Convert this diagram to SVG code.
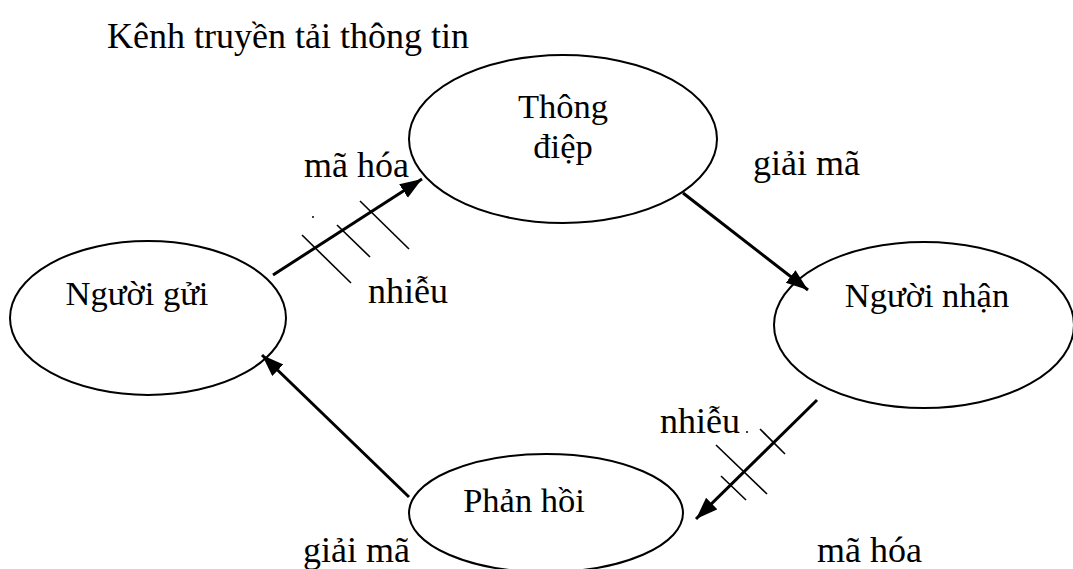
<svg xmlns="http://www.w3.org/2000/svg" width="1073" height="569" viewBox="0 0 1073 569">
  <style>
    .node { fill: #ffffff; stroke: #000000; stroke-width: 2; }
    .ntext { font-family: "Liberation Serif", "Times New Roman", serif; font-size: 34.5px; fill: #000000; text-anchor: middle; }
    .label { font-family: "Liberation Serif", "Times New Roman", serif; font-size: 36px; fill: #000000; }
    .flow { stroke: #000000; stroke-width: 3; fill: none; marker-end: url(#head); }
    .noise { stroke: #000000; stroke-width: 1.6; }
  </style>
  <defs>
    <marker id="head" markerUnits="userSpaceOnUse" markerWidth="24" markerHeight="18" refX="22" refY="8" orient="auto">
      <path d="M0,0 L22,8 L0,16 Z" fill="#000000"/>
    </marker>
  </defs>

  <rect width="1073" height="569" fill="#ffffff"/>

  <text class="label" x="107" y="48">Kênh truyền tải thông tin</text>

  <g id="thong-diep">
    <ellipse class="node" cx="563" cy="139" rx="154" ry="84"/>
    <text class="ntext" x="563" y="118">Thông</text>
    <text class="ntext" x="563" y="158">điệp</text>
  </g>

  <g id="nguoi-gui">
    <ellipse class="node" cx="148" cy="318" rx="138" ry="77"/>
    <text class="ntext" x="137" y="305">Người gửi</text>
  </g>

  <g id="nguoi-nhan">
    <ellipse class="node" cx="924" cy="325" rx="150" ry="83"/>
    <text class="ntext" x="927" y="307">Người nhận</text>
  </g>

  <g id="phan-hoi">
    <ellipse class="node" cx="546" cy="513" rx="137" ry="59"/>
    <text class="ntext" x="524" y="512">Phản hồi</text>
  </g>

  <g id="connectors">
    <line class="flow" x1="273" y1="275" x2="422" y2="179"/>
    <line class="flow" x1="683" y1="193" x2="808" y2="290"/>
    <line class="flow" x1="817" y1="400" x2="696" y2="519"/>
    <line class="flow" x1="409" y1="497" x2="262" y2="355"/>
    <!-- noise hatching across the encoding channels -->
    <line class="noise" x1="302" y1="235" x2="351" y2="283"/>
    <line class="noise" x1="337" y1="225" x2="370" y2="257"/>
    <line class="noise" x1="360" y1="201" x2="409" y2="249"/>
    <line class="noise" x1="760" y1="429" x2="785" y2="454"/>
    <line class="noise" x1="716" y1="445" x2="767" y2="494"/>
    <line class="noise" x1="721" y1="476" x2="746" y2="500"/>
  </g>

  <g id="labels">
    <text class="label" x="304" y="177">mã hóa</text>
    <text class="label" x="753" y="175">giải mã</text>
    <text class="label" x="368" y="303">nhiễu</text>
    <text class="label" x="660" y="433">nhiễu</text>
    <text class="label" x="303" y="562">giải mã</text>
    <text class="label" x="817" y="562">mã hóa</text>
    <circle cx="313" cy="217" r="1" fill="#000000"/>
    <circle cx="747" cy="432" r="1" fill="#000000"/>
  </g>
</svg>
